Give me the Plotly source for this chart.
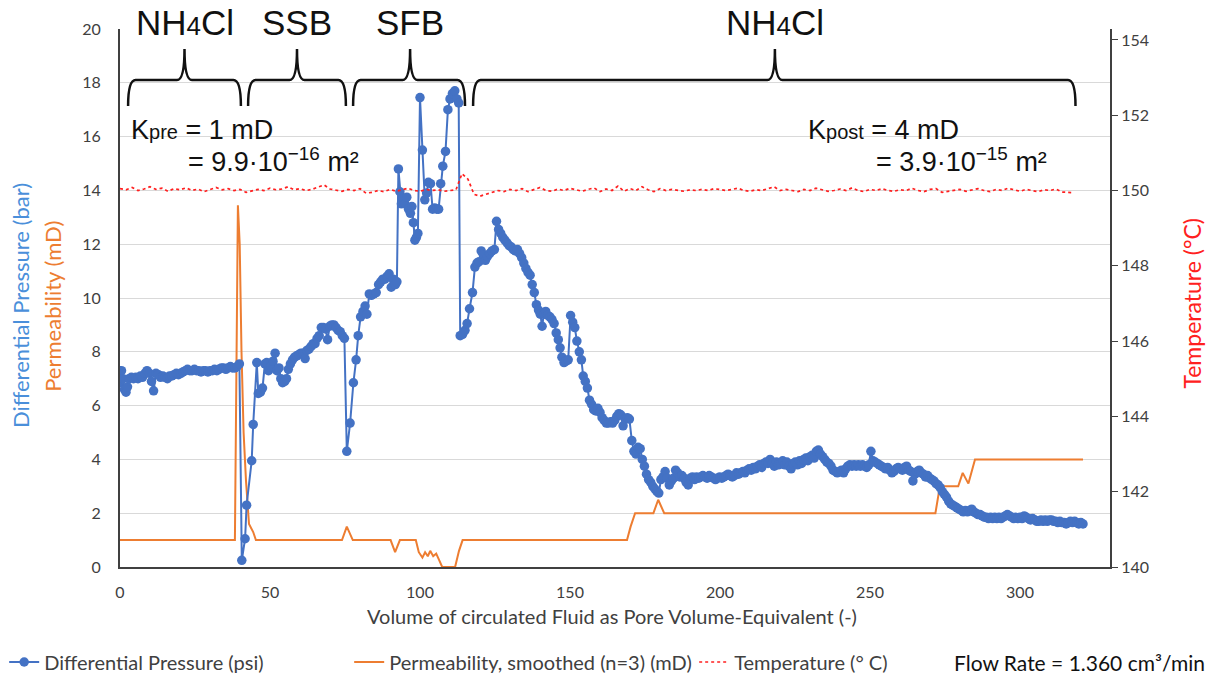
import plotly.graph_objects as go

# ---------------- data ----------------
dp_x = [0.0, 0.5, 1.0, 1.5, 2.0, 2.5, 3.0, 3.8, 4.5, 5.3, 6.0, 6.8, 7.5, 8.3, 9.0, 9.8, 10.5, 11.2, 12.0, 12.8,
        13.5, 14.3, 15.0, 15.8, 16.5, 17.3, 18.0, 18.8, 19.5, 20.3, 21.0, 21.8, 22.5, 23.3, 24.0, 24.8, 25.5, 26.3,
        27.0, 27.8, 28.5, 29.3, 30.0, 30.8, 31.5, 32.3, 33.0, 33.8, 34.5, 35.3, 36.0, 36.8, 37.5, 38.3, 39.0, 39.8,
        40.6, 41.7, 42.2, 43.9, 44.4, 45.6, 46.1, 46.8, 47.5, 48.3, 48.9, 49.5, 50.3, 51.0, 51.7, 52.3, 53.0, 53.6,
        54.2, 54.9, 55.5, 56.1, 56.8, 57.5, 58.2, 58.9, 59.6, 60.3, 61.0, 61.7, 62.3, 63.0, 63.7, 64.4, 65.0, 65.7,
        66.4, 67.1, 67.8, 68.5, 69.2, 69.9, 70.6, 71.3, 72.0, 72.7, 73.4, 74.1, 74.8, 75.6, 76.7, 77.8, 78.7, 79.4,
        80.2, 81.0, 81.7, 82.3, 83.1, 83.8, 84.6, 85.4, 86.2, 86.9, 87.6, 88.3, 89.0, 89.7, 90.4, 91.1, 91.8, 92.3,
        92.8, 93.3, 93.8, 94.4, 95.0, 95.6, 96.2, 96.8, 97.3, 97.8, 98.3, 98.8, 99.3, 100.0, 100.8, 101.6, 102.2,
        102.8, 103.5, 104.2, 104.9, 105.6, 106.2, 106.9, 107.6, 108.5, 109.3, 110.0, 110.8, 111.6, 112.3, 112.9,
        113.4, 114.2, 115.0, 115.7, 116.5, 117.5, 118.3, 119.0, 119.7, 120.4, 121.1, 121.8, 122.5, 123.2, 124.0,
        124.8, 125.5, 126.2, 126.9, 127.6, 128.3, 129.0, 129.7, 130.4, 131.1, 131.8, 132.5, 133.2, 133.9, 134.6,
        135.3, 136.0, 136.7, 137.4, 138.1, 138.8, 139.5, 140.1, 140.7, 141.3, 141.9, 142.6, 143.3, 144.0, 144.7,
        145.4, 146.1, 146.7, 147.3, 148.0, 148.7, 149.4, 150.2, 150.9, 151.6, 152.3, 153.1, 153.8, 154.4, 155.1,
        155.8, 156.5, 157.2, 157.9, 158.6, 159.3, 160.0, 160.7, 161.4, 162.1, 162.8, 163.5, 164.2, 164.9, 165.6,
        166.3, 167.0, 167.7, 168.4, 169.1, 169.8, 170.6, 171.3, 172.0, 172.7, 173.4, 174.1, 174.8, 175.5, 176.2,
        176.9, 177.6, 178.3, 179.0, 179.6, 180.3, 181.0, 181.7, 182.4, 183.1, 183.8, 184.5, 185.2, 185.9, 186.6,
        187.3, 188.0, 188.7, 189.4, 190.1, 190.8, 191.5, 192.2, 192.9, 193.6, 194.3, 195.0, 195.7, 196.4, 197.1,
        197.8, 198.5, 199.2, 199.9, 200.6, 201.3, 202.0, 202.7, 203.4, 204.1, 204.8, 205.5, 206.2, 206.9, 207.6,
        208.3, 209.0, 209.7, 210.4, 211.1, 211.8, 212.5, 213.2, 213.9, 214.6, 215.3, 216.0, 216.7, 217.4, 218.1,
        218.8, 219.5, 220.2, 220.9, 221.6, 222.3, 223.0, 223.7, 224.4, 225.1, 225.8, 226.5, 227.2, 227.9, 228.6,
        229.3, 230.0, 230.7, 231.4, 232.1, 232.8, 233.5, 234.2, 234.9, 235.6, 236.3, 237.0, 237.7, 238.4, 239.1,
        239.8, 240.5, 241.2, 241.9, 242.6, 243.3, 244.0, 244.7, 245.4, 246.1, 246.8, 247.5, 248.2, 248.9, 249.6,
        250.3, 251.0, 251.7, 252.4, 253.1, 253.8, 254.5, 255.2, 255.9, 256.6, 257.3, 258.0, 258.7, 259.4, 260.1,
        260.8, 261.5, 262.2, 262.9, 263.6, 264.3, 265.0, 265.7, 266.4, 267.1, 267.8, 268.5, 269.2, 269.9, 270.6,
        271.3, 272.0, 272.7, 273.4, 274.1, 274.8, 275.5, 276.2, 276.9, 277.6, 278.3, 279.0, 279.7, 280.4, 281.1,
        281.8, 282.5, 283.2, 283.9, 284.6, 285.3, 286.0, 286.7, 287.4, 288.1, 288.8, 289.5, 290.2, 290.9, 291.6,
        292.3, 293.0, 293.7, 294.4, 295.1, 295.8, 296.5, 297.2, 297.9, 298.6, 299.3, 300.0, 300.7, 301.4, 302.1,
        302.8, 303.5, 304.2, 304.9, 305.6, 306.3, 307.0, 307.7, 308.4, 309.1, 309.8, 310.5, 311.2, 311.9, 312.6,
        313.3, 314.0, 314.7, 315.4, 316.1, 316.8, 317.5, 318.2, 318.9, 319.6, 320.3, 321.0]
dp_y = [6.85, 7.3, 7.0, 6.6, 6.5, 6.7, 7.0, 7.05, 7.0, 7.05, 7.0, 7.1, 7.05, 7.2, 7.3, 7.2, 6.9, 6.55, 7.2, 7.15,
        7.05, 7.1, 7.05, 7.0, 7.1, 7.1, 7.15, 7.2, 7.15, 7.2, 7.25, 7.3, 7.35, 7.3, 7.3, 7.35, 7.3, 7.3,
        7.25, 7.3, 7.3, 7.25, 7.3, 7.3, 7.35, 7.3, 7.35, 7.4, 7.4, 7.35, 7.4, 7.45, 7.4, 7.4, 7.45, 7.55,
        0.25, 1.05, 2.3, 3.95, 5.3, 7.6, 6.45, 6.5, 6.65, 7.55, 7.6, 7.3, 7.45, 7.65, 7.95, 7.3, 7.4, 7.0,
        6.85, 6.9, 7.0, 7.35, 7.55, 7.7, 7.8, 7.85, 7.9, 7.95, 7.95, 7.75, 8.05, 8.1, 8.2, 8.3, 8.3, 8.5,
        8.6, 8.9, 8.9, 8.85, 8.45, 8.95, 9.0, 9.0, 8.9, 8.8, 8.75, 8.6, 8.5, 4.3, 5.35, 6.85, 7.7, 8.6,
        9.3, 9.5, 9.7, 9.4, 10.15, 10.1, 10.15, 10.2, 10.5, 10.6, 10.7, 10.7, 10.8, 10.9, 10.4, 10.7, 10.5, 10.6,
        14.8, 13.95, 13.5, 13.7, 13.5, 13.75, 13.3, 13.15, 13.4, 12.8, 12.15, 12.25, 12.4, 17.45, 15.5, 13.65, 13.9,
        14.3, 14.25, 13.3, 13.35, 13.3, 13.3, 14.25, 14.9, 15.45, 17.0, 17.4, 17.6, 17.7, 17.4, 17.25,
        8.6, 8.65, 8.8, 9.05, 9.6, 10.2, 11.15, 11.3, 11.35, 11.75, 11.6, 11.4, 11.55, 11.65, 11.75,
        11.8, 12.85, 12.55, 12.4, 12.25, 12.15, 12.05, 11.95, 11.9, 11.8, 11.75, 11.8, 11.65, 11.5, 11.3,
        11.1, 10.95, 10.85, 10.5, 10.2, 9.75, 9.55, 9.4, 8.95, 9.4, 9.5, 9.35, 9.3, 9.2, 9.05,
        8.7, 8.45, 8.15, 7.8, 7.6, 7.65, 7.7, 9.35, 9.1, 8.9, 8.4, 8.0, 7.7, 7.1, 6.9,
        6.65, 6.2, 6.05, 5.85, 5.8, 5.9, 5.75, 5.55, 5.45, 5.35, 5.35, 5.4, 5.35, 5.45, 5.6,
        5.7, 5.65, 5.25, 5.5, 5.55, 5.5, 4.7, 4.3, 4.2, 4.45, 4.4, 4.0, 3.75, 3.45, 3.25,
        3.15, 3.0, 2.9, 2.8, 2.75, 3.25, 3.35, 3.55, 3.3, 3.05, 3.2, 3.3, 3.6, 3.5, 3.35,
        3.4, 3.3, 3.15, 3.05, 3.3, 3.35, 3.25, 3.35, 3.3, 3.35, 3.4, 3.35, 3.3, 3.4, 3.35,
        3.3, 3.25, 3.3, 3.35, 3.3, 3.35, 3.4, 3.45, 3.4, 3.35, 3.4, 3.5, 3.45, 3.5, 3.55,
        3.5, 3.6, 3.65, 3.6, 3.7, 3.65, 3.75, 3.8, 3.7, 3.85, 3.9, 3.85, 4.0, 3.85, 3.75,
        3.9, 3.8, 3.85, 3.95, 3.8, 3.9, 3.75, 3.65, 3.85, 3.9, 3.8, 3.95, 3.85, 4.0, 4.05,
        3.95, 4.1, 4.15, 4.05, 4.3, 4.35, 4.2, 4.1, 4.0, 3.9, 3.85, 3.75, 3.6, 3.55, 3.5,
        3.55, 3.6, 3.5, 3.65, 3.75, 3.8, 3.75, 3.8, 3.75, 3.8, 3.75, 3.8, 3.75, 3.7, 3.8,
        4.3, 3.95, 3.9, 3.85, 3.8, 3.75, 3.7, 3.65, 3.7, 3.6, 3.5, 3.55, 3.65, 3.7, 3.65,
        3.6, 3.7, 3.75, 3.6, 3.55, 3.2, 3.45, 3.55, 3.6, 3.5, 3.45, 3.35, 3.4, 3.3, 3.25,
        3.2, 3.1, 3.05, 2.95, 2.8, 2.7, 2.6, 2.45, 2.35, 2.3, 2.25, 2.2, 2.15, 2.1, 2.05,
        2.1, 2.05, 2.1, 2.15, 2.05, 2.0, 1.95, 1.95, 1.9, 1.85, 1.85, 1.8, 1.85, 1.8, 1.85,
        1.8, 1.85, 1.8, 1.85, 1.9, 1.95, 1.9, 1.85, 1.8, 1.85, 1.8, 1.85, 1.8, 1.9, 1.85,
        1.8, 1.75, 1.8, 1.75, 1.7, 1.7, 1.75, 1.7, 1.75, 1.7, 1.75, 1.75, 1.7, 1.7, 1.65,
        1.7, 1.65, 1.65, 1.6, 1.65, 1.7, 1.65, 1.7, 1.65, 1.6, 1.65, 1.6]

perm_x = [0, 38.3, 39.3, 39.9, 40.5, 41.2, 42.0, 43.0, 44.4, 45.3, 74.0, 75.6, 77.6, 90.2, 91.7, 93.3, 98.6,
          99.6, 100.8, 101.7, 102.6, 103.4, 104.4, 105.4, 106.2, 107.4, 111.7, 113.0, 114.2, 169.0, 170.2, 171.7,
          177.8, 179.4, 181.4, 271.8, 273.3, 279.4, 280.9, 282.8, 285.0, 321.0]
perm_y = [1.0, 1.0, 13.45, 12.0, 8.0, 5.0, 3.2, 1.6, 1.3, 1.0, 1.0, 1.5, 1.0, 1.0, 0.55, 1.0, 1.0,
          0.55, 0.35, 0.55, 0.4, 0.6, 0.4, 0.5, 0.3, 0.0, 0.0, 0.6, 1.0, 1.0, 1.5, 2.0,
          2.0, 2.5, 2.0, 2.0, 3.0, 3.0, 3.5, 3.1, 4.0, 4.0]

temp_c = [150.05, 150.02, 150.08, 150.0, 150.04, 150.1, 150.03, 150.06, 149.98, 150.05, 150.02, 150.07, 150.0,
          150.04, 149.97, 150.03, 150.08, 150.02, 150.05, 150.0, 150.03,
          149.95, 149.98, 150.03, 150.0, 150.06, 150.02, 150.04, 150.1, 150.02, 150.05, 150.0, 150.03, 150.08,
          150.15, 150.04, 150.0, 149.98, 150.03, 150.0, 150.05,
          149.93, 149.95, 150.0, 149.97, 150.03, 149.98, 150.02, 150.06, 150.0, 149.98, 150.03, 150.0, 150.02,
          149.98, 150.0, 150.02,
          150.45, 150.3, 149.9, 149.85,
          149.9, 149.95, 150.0, 149.97, 150.03, 150.0, 150.05, 149.97, 150.02, 150.08, 150.0, 149.98, 150.04,
          150.0, 150.06, 150.02, 149.98, 150.03, 150.07, 149.97, 150.04, 150.0, 150.12, 149.98, 150.05, 150.0,
          150.1, 150.02, 149.97, 150.05, 150.0, 150.03, 150.0, 149.98, 150.02, 150.0, 150.03, 150.0, 150.05,
          150.02, 150.0, 150.03, 150.06, 150.0, 149.98, 150.02, 150.0, 150.05, 150.1, 150.0, 150.03, 150.0,
          149.97, 150.03, 150.0, 150.06, 150.02, 149.98, 150.0, 150.04, 150.0, 150.07, 150.0, 149.97, 150.03,
          150.0, 150.05, 150.0, 149.98, 150.02, 150.0, 150.06, 150.0, 149.97, 150.03, 150.05, 149.95, 149.97,
          150.0, 150.03, 149.98, 150.02, 150.05, 150.0, 149.97, 150.03, 150.0, 150.06, 150.02, 149.98, 150.03,
          150.0, 149.97, 150.02, 150.0, 150.04, 149.96, 149.95, 149.94]
temp_x = [2 * i for i in range(len(temp_c))]

phase_labels = ["NH<span style='font-size:26px'>4</span>Cl", "SSB", "SFB",
                "NH<span style='font-size:26px'>4</span>Cl"]
phase_start = [2.7, 42.7, 77.7, 117.7]
phase_end = [40.3, 75.3, 115.0, 318.5]
phase_mid = [21.5, 59.0, 96.7, 218.3]

BLUE = "#4472C4"
ORANGE = "#ED7D31"
RED = "#FF2020"
FONT = "Lato"

fig = go.Figure()
fig.add_trace(go.Scatter(x=perm_x, y=perm_y, mode="lines", name="Permeability, smoothed (n=3) (mD)",
                         line=dict(color=ORANGE, width=2), legendrank=2))
fig.add_trace(go.Scatter(x=dp_x, y=dp_y, mode="lines+markers", name="Differential Pressure (psi)",
                         line=dict(color=BLUE, width=2), marker=dict(color=BLUE, size=9.5), legendrank=1))
fig.add_trace(go.Scatter(x=temp_x, y=temp_c, mode="lines", name="Temperature (° C)", yaxis="y2",
                         line=dict(color=RED, width=1.7, dash="dot"), legendrank=3))

# braces
yb, yh, yt, r = 0.857, 0.9052, 0.963, 2.5
shapes = []
for x0, x1, xm in zip(phase_start, phase_end, phase_mid):
    path = (f"M {x0},{yb} Q {x0},{yh} {x0 + r},{yh} L {xm - r},{yh} Q {xm},{yh} {xm},{yt} "
            f"Q {xm},{yh} {xm + r},{yh} L {x1 - r},{yh} Q {x1},{yh} {x1},{yb}")
    shapes.append(dict(type="path", xref="x", yref="paper", path=path,
                       line=dict(color="#111111", width=2.5)))

ann = []
for lab, xm in zip(phase_labels, phase_mid):
    ann.append(dict(x=xm, y=1.013, xref="x", yref="paper", text=lab, showarrow=False,
                    font=dict(family="Liberation Sans", size=35, color="#111111"),
                    xanchor="center", yanchor="middle"))

kfont = dict(family="Liberation Sans", size=27, color="#111111")
ann += [
    dict(x=3.0, y=0.812, xref="x", yref="paper", xanchor="left", yanchor="middle", showarrow=False,
         text="K<span style='font-size:20px'>pre</span> = 1 mD", font=kfont),
    dict(x=22.0, y=0.7565, xref="x", yref="paper", xanchor="left", yanchor="middle", showarrow=False,
         text="= 9.9·10<sup>−16</sup> m²", font=kfont),
    dict(x=228.7, y=0.812, xref="x", yref="paper", xanchor="left", yanchor="middle", showarrow=False,
         text="K<span style='font-size:20px'>post</span> = 4 mD", font=kfont),
    dict(x=251.4, y=0.7565, xref="x", yref="paper", xanchor="left", yanchor="middle", showarrow=False,
         text="= 3.9·10<sup>−15</sup> m²", font=kfont),
    # axis titles
    dict(x=-0.101, y=0.485, xref="paper", yref="paper", textangle=-90, showarrow=False,
         text="Differential Pressure (bar)", font=dict(family=FONT, size=22, color="#4A8FDA"),
         xanchor="center", yanchor="middle"),
    dict(x=-0.069, y=0.485, xref="paper", yref="paper", textangle=-90, showarrow=False,
         text="Permeability (mD)", font=dict(family=FONT, size=22, color=ORANGE),
         xanchor="center", yanchor="middle"),
    dict(x=1.083, y=0.49, xref="paper", yref="paper", textangle=-90, showarrow=False,
         text="Temperature (°C)", font=dict(family=FONT, size=23, color=RED),
         xanchor="center", yanchor="middle"),
    dict(x=0.497, y=-0.091, xref="paper", yref="paper", showarrow=False,
         text="Volume of circulated Fluid as Pore Volume-Equivalent (-)",
         font=dict(family=FONT, size=20, color="#404040"), xanchor="center", yanchor="middle"),
    dict(x=0.969, y=-0.1766, xref="paper", yref="paper", showarrow=False,
         text="Flow Rate = 1.360 cm³/min", font=dict(family=FONT, size=21, color="#111111"),
         xanchor="center", yanchor="middle"),
]

fig.update_layout(
    width=1217, height=680,
    margin=dict(l=120, r=107, t=29, b=113, autoexpand=False),
    paper_bgcolor="white", plot_bgcolor="white",
    font=dict(family=FONT, size=16, color="#404040"),
    shapes=shapes, annotations=ann,
    xaxis=dict(range=[0, 330], dtick=50, showgrid=False, zeroline=False, showline=True,
               linecolor="#404040", linewidth=2, ticks="", ticklabelstandoff=10,
               tickfont=dict(size=16, color="#404040")),
    yaxis=dict(range=[0, 20], dtick=2, showgrid=True, gridcolor="#D9D9D9", gridwidth=1,
               zeroline=False, showline=True, linecolor="#404040", linewidth=2, ticks="",
               ticklabelstandoff=14, tickfont=dict(size=16, color="#404040")),
    yaxis2=dict(range=[140, 154.29], tickvals=[140, 142, 144, 146, 148, 150, 152, 154], overlaying="y",
                side="right", showgrid=False, zeroline=False, showline=True, linecolor="#404040",
                linewidth=2, ticks="outside", ticklen=6, tickcolor="#404040",
                tickfont=dict(size=16, color="#404040")),
    legend=dict(orientation="h", x=-0.117, y=-0.1766, xanchor="left", yanchor="middle",
                font=dict(family=FONT, size=20, color="#404040"), entrywidth=300,
                bgcolor="rgba(0,0,0,0)"),
)

fig.write_html("out.html")
